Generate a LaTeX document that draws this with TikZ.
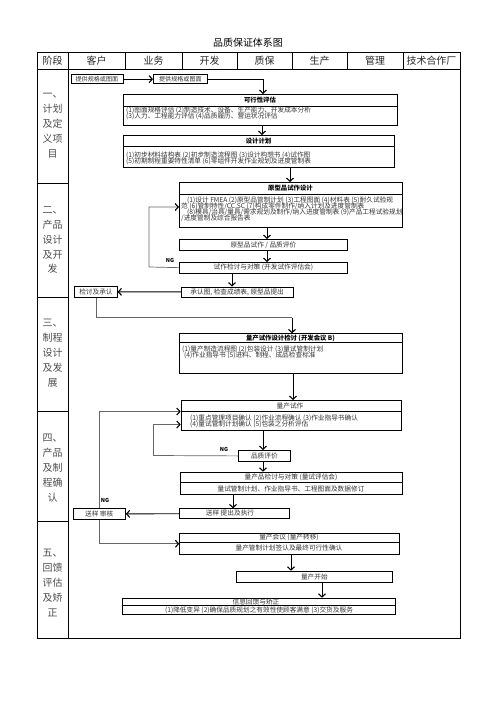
\documentclass[tikz,border=0pt]{standalone}
\usepackage{fontspec}
\setmainfont{Noto Sans CJK SC}
\usetikzlibrary{arrows.meta,calc}
\begin{document}
\begin{tikzpicture}[x=1bp,y=-1bp,
  box/.style={draw=black,line width=0.8bp,inner sep=0pt,anchor=north west},
  txt/.style={inner sep=0pt,font=\fontsize{6.7}{6.1}\selectfont,text=black!80},
  stxt/.style={inner sep=0pt,font=\fontsize{6.1}{6.1}\selectfont,text=black!80},
  ttl/.style={inner sep=0pt,font=\fontsize{6.4}{7}\selectfont\bfseries,text=black},
  hdr/.style={inner sep=0pt,font=\fontsize{10}{12}\selectfont,text=black!85},
  stg/.style={inner sep=0pt,align=center,font=\fontsize{10}{15}\selectfont,text=black!70},
  arr/.style={draw=black,line width=0.9bp,-{Straight Barb[length=3.2bp,width=7bp,line width=1.1bp]}},
  arrg/.style={draw=black!60,line width=0.7bp,-{Straight Barb[length=3.2bp,width=7bp,line width=1.1bp,color=black]}},
  lng/.style={draw=black!60,line width=0.7bp},
  ng/.style={inner sep=0pt,font=\fontsize{5.5}{6}\selectfont\bfseries}
]
\useasboundingbox (0,0) rectangle (496,702);
% title
\node[hdr,text=black] (title) at (248,43) {品质保证体系图};
% table
\draw[line width=0.8bp] (37,52.5) rectangle (460,638);
\draw[line width=0.8bp] (37,69) -- (460,69);
\draw[line width=0.8bp] (68,52.5) -- (68,638);
\foreach \cx in {125,182,237,292,347,403} \draw[line width=0.8bp] (\cx,52.5) -- (\cx,69);
\foreach \ry in {183,297,411,521} \draw[line width=0.8bp] (37,\ry) -- (68,\ry);
\node[hdr] (h1) at (52.5,61) {阶段};
\node[hdr] (h2) at (96.5,61) {客户};
\node[hdr] (h3) at (153.5,61) {业务};
\node[hdr] (h4) at (209.5,61) {开发};
\node[hdr] (h5) at (264.5,61) {质保};
\node[hdr] (h6) at (319.5,61) {生产};
\node[hdr] (h7) at (375,61) {管理};
\node[hdr] (h8) at (431.5,61) {技术合作厂};
% stages
\node[stg] (s1) at (52.5,126) {一、\\计划\\及定\\义项\\目};
\node[stg] (s2) at (52.5,240) {二、\\产品\\设计\\及开\\发};
\node[stg] (s3) at (52.5,353) {三、\\制程\\设计\\及发\\展};
\node[stg] (s4) at (52.5,468) {四、\\产品\\及制\\程确\\认};
\node[stg] (s5) at (52.5,583) {五、\\回馈\\评估\\及矫\\正};
% column coordinates
\coordinate (c232) at (232,0);
\coordinate (c233) at (233,0);
\coordinate (c262) at (262,0);
\coordinate (c263) at (263,0);
\coordinate (c267) at (267,0);
\coordinate (c290) at (290,0);
\coordinate (c291) at (291,0);
\coordinate (c293) at (293,0);
\coordinate (c322) at (322,0);
% boxes
\node[box,minimum width=52bp,minimum height=9.5bp] (p1) at (70.5,74) {};
\node[stxt] (p1t) at (p1.center) {提供规格或图面};
\node[box,minimum width=54bp,minimum height=9.5bp] (p2) at (153,74) {};
\node[stxt] (p2t) at (p2.center) {提供规格或图面};
% kx
\node[box,minimum width=274bp,minimum height=31bp] (kx) at (123,94) {};
\draw[line width=0.8bp] (123,106) -- (397,106);
\node[ttl] (kxh) at (260,100) {可行性评估};
\node[txt,anchor=west] (kx1) at (126,110.5) {(1)图面规格评估 (2)制造技术、设备、生产能力、开发成本分析};
\node[txt,anchor=west] (kx2) at (126,116.6) {(3)人力、工程能力评估 (4)品质履历、营运状况评估};
% sj
\node[box,minimum width=271bp,minimum height=32bp] (sj) at (123,135) {};
\draw[line width=0.8bp] (123,146.5) -- (394,146.5);
\node[ttl] (sjh) at (258.5,140.7) {设计计划};
\node[txt,anchor=west] (sj1) at (126,155.7) {(1)初步材料结构表 (2)初步制造流程图 (3)设计构想书 (4)试作图};
\node[txt,anchor=west] (sj2) at (126,161.8) {(5)初期制程重要特性清单 (6)零组件开发作业规划及进度管制表};
% yx
\node[box,minimum width=223bp,minimum height=45bp] (yx) at (179,182) {};
\draw[line width=0.8bp] (179,194) -- (402,194);
\node[ttl] (yxh) at (290.5,188) {原型品试作设计};
\node[txt,anchor=west] (yx1) at (187,200) {(1)设计 FMEA (2)原型品管制计划 (3)工程图面 (4)材料表 (5)耐久试验规};
\node[txt,anchor=west] (yx2) at (181,206.2) {范 (6)管制特性/CC,SC (7)构成零件制作/纳入计划及进度管制表};
\node[txt,anchor=west] (yx3) at (187,212.4) {(8)模具/治具/量具/需求规划及制作/纳入进度管制表 (9)产品工程试验规划};
\node[txt,anchor=west] (yx4) at (181,218.6) {/进度管制及综合报告表};
% ys
\node[box,minimum width=168bp,minimum height=11bp] (ys) at (179,239) {};
\node[txt] (yst) at (ys.center) {原型品试作 / 品质评价};
% sz
\node[box,minimum width=168bp,minimum height=10.5bp] (sz) at (179,262) {};
\node[txt] (szt) at (sz.center) {试作检讨与对策 (开发试作评估会)};
% cr
\node[box,minimum width=111.5bp,minimum height=10bp] (cr) at (181,286.5) {};
\node[txt] (crt) at (cr.center) {承认图, 检查成绩表, 原型品提出};
% js
\node[box,minimum width=42.5bp,minimum height=10.5bp] (js) at (74.3,286.2) {};
\node[txt] (jst) at (js.center) {检讨及承认};
% lsd
\node[box,minimum width=223bp,minimum height=39.5bp] (lsd) at (179.3,333.3) {};
\draw[line width=0.8bp] (179.3,342.5) -- (402.3,342.5);
\node[ttl] (lsdh) at (290.5,338) {量产试作设计检讨 (开发会议 B)};
\node[txt,anchor=west] (lsd1) at (182,349.3) {(1)量产制造流程图 (2)包装设计 (3)量试管制计划};
\node[txt,anchor=west] (lsd2) at (184,355.4) {(4)作业指导书 (5)进料、制程、成品检查标准};
% lc
\node[box,minimum width=220.5bp,minimum height=30bp] (lc) at (180.7,400) {};
\draw[line width=0.8bp] (180.7,411.5) -- (401.2,411.5);
\node[txt] (lch) at (290,405.7) {量产试作};
\node[txt,anchor=west] (lc1) at (190,418) {(1)重点管理项目确认 (2)作业流程确认 (3)作业指导书确认};
\node[txt,anchor=west] (lc2) at (190,424.4) {(4)量试管制计划确认 (5)包装之分析评估};
% pz
\node[box,minimum width=52bp,minimum height=11bp] (pz) at (238,450) {};
\node[txt] (pzt) at (pz.center) {品质评价};
% lj
\node[box,minimum width=222bp,minimum height=22.3bp] (lj) at (180,471.7) {};
\draw[line width=0.8bp] (180,482.7) -- (402,482.7);
\node[txt] (lj1) at (291,477.2) {量产品检讨与对策 (量试评估会)};
\node[txt] (lj2) at (291,488.5) {量试管制计划、作业指导书、工程图面及数据修订};
% ts
\node[box,minimum width=110bp,minimum height=10bp] (ts) at (179.3,508.3) {};
\node[txt] (tst) at (230,513.3) {送样 提出及执行};
% sh
\node[box,minimum width=52.3bp,minimum height=11bp] (sh) at (72.7,508) {};
\node[txt] (sht) at (sh.center) {送样 审核};
% lh
\node[box,minimum width=220bp,minimum height=21.3bp] (lh) at (179.3,532.7) {};
\draw[line width=0.8bp] (179.3,542.5) -- (399.3,542.5);
\node[txt] (lh1) at (289,537.6) {量产会议 (量产转移)};
\node[txt] (lh2) at (289,548.3) {量产管制计划签认及最终可行性确认};
% lk
\node[box,minimum width=156bp,minimum height=11.6bp] (lk) at (236,570.7) {};
\node[txt] (lkt) at (lk.center) {量产开始};
% xx
\node[box,minimum width=273bp,minimum height=16.6bp] (xx) at (121.7,597.7) {};
\draw[line width=0.8bp] (121.7,605.7) -- (394.7,605.7);
\node[txt] (xx1) at (256,601.7) {信息回馈与矫正};
\node[txt] (xx2) at (259,610.1) {(1)降低变异 (2)确保品质规划之有效性使顾客满意 (3)交货及服务};
% connectors
\draw[arr] (p1.east) -- (p2.west);
\draw[arr] (p2.east) -| (kx.north -| c263);
\draw[arr] (kx.south -| c262) -- (sj.north -| c262);
\draw[arr] (sj.south -| c290) -- (yx.north -| c290);
\draw[arr] (yx.south -| c267) -- (ys.north -| c267);
\draw[arr] (ys.south -| c267) -- (sz.north -| c267);
\coordinate (ng1) at (149,267);
\draw[arrg] (sz.west) -- (ng1) |- ([yshift=-25bp]yx.north west);
\node[ng] (ngt1) at (170,260) {NG};
\draw[arr] (sz.south -| c232) -- (cr.north -| c232);
\draw[arr] (cr.west) -- (js.east);
\coordinate (k1) at (292,317.7);
\draw[lng] (js.south) |- (k1);
\draw[arr] (k1) -- (lsd.north -| k1);
\draw[arr] (lsd.south -| c293) -- (lc.north -| c293);
\draw[arr] (lc.south -| c263) -- (pz.north -| c263);
\coordinate (ng2) at (153.5,455.5);
\draw[arrg] (pz.west) -- (ng2) |- ([yshift=-24.5bp]lc.north west);
\node[ng] (ngt2) at (224,449) {NG};
\draw[arr] (pz.south -| c263) -- (lj.north -| c263);
\draw[arr] (lj.south -| c233) -- (ts.north -| c233);
\draw[arr] (ts.west) -- (sh.east);
\draw[arrg] (sh.north) |- ([yshift=-11.5bp]lc.north west);
\node[ng] (ngt3) at (105,500) {NG};
\draw[arrg] (sh.south) |- (lh.west);
\draw[arr] (lh.south -| c291) -- (lk.north -| c291);
\draw[arr] (lk.south -| c322) -- (xx.north -| c322);
\end{tikzpicture}
\end{document}
